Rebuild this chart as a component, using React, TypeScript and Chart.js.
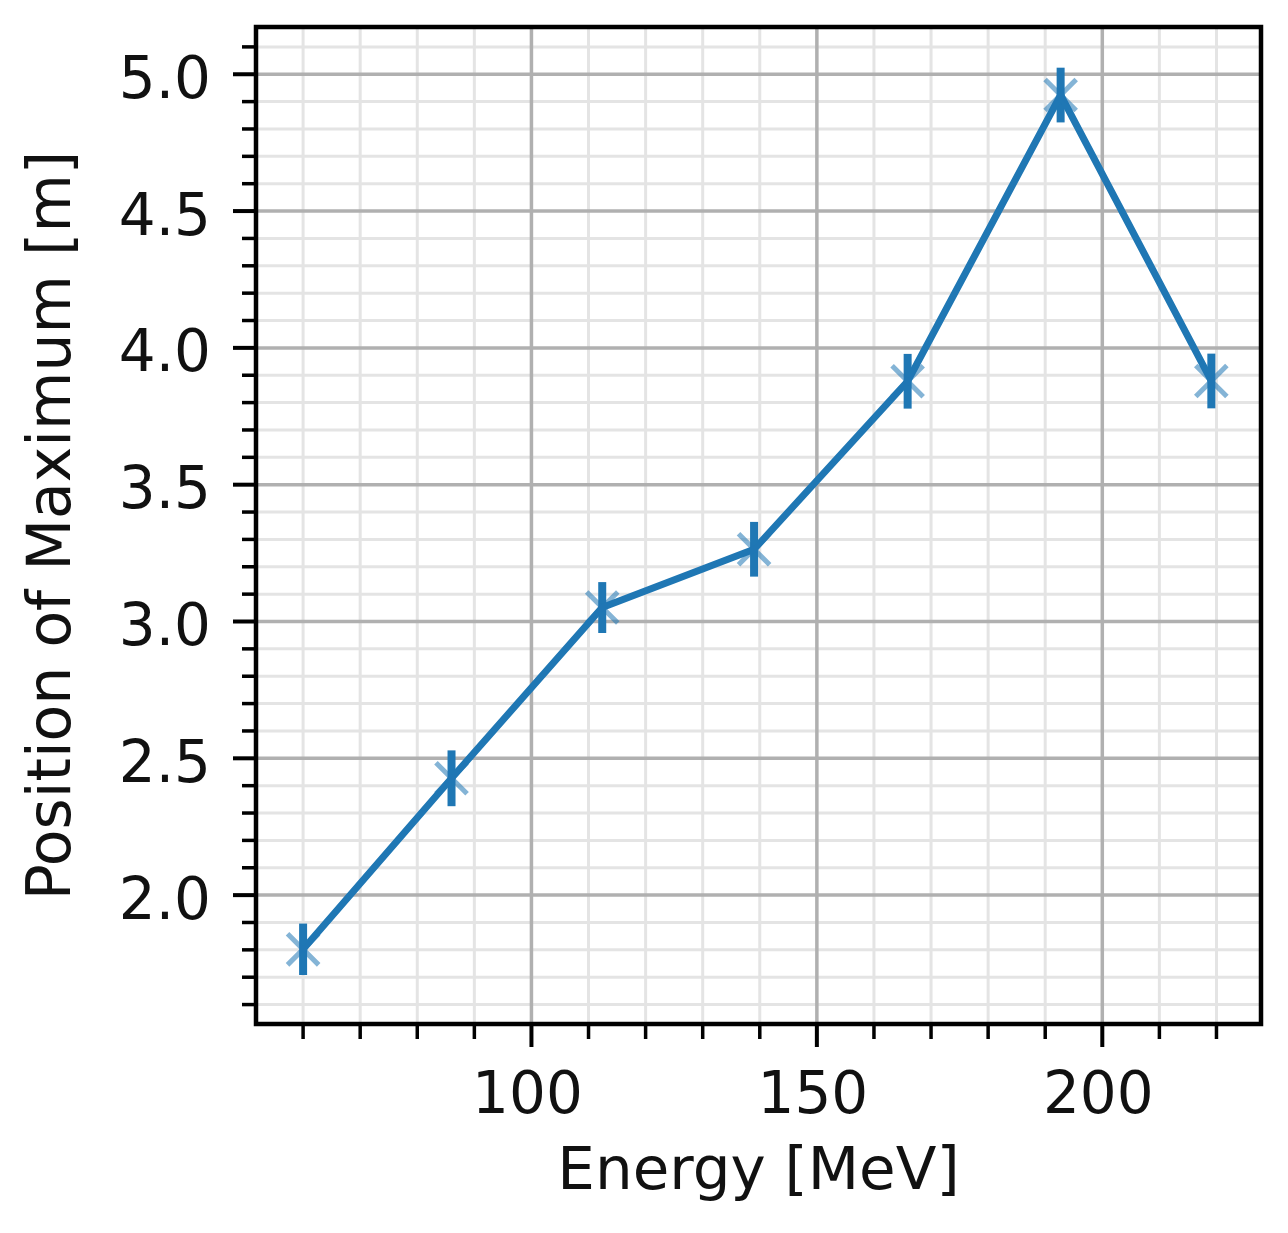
import React, { useEffect, useRef } from "react";
import { Chart, registerables } from "chart.js";

Chart.register(...registerables);

// ---- data ----
const energies = [60.0, 86.0, 112.4, 139.0, 165.9, 192.7, 219.1];
const positions = [1.802, 2.427, 3.051, 3.264, 3.878, 4.924, 3.879];
const errors = [0.094, 0.102, 0.093, 0.1, 0.1, 0.1, 0.1];

const xMajorTicks = [100, 150, 200];
const xMinorTicks = [60, 70, 80, 90, 110, 120, 130, 140, 160, 170, 180, 190, 210, 220];
const yMajorTicks = [2.0, 2.5, 3.0, 3.5, 4.0, 4.5, 5.0];
const yMinorTicks = [
  1.6, 1.7, 1.8, 1.9, 2.1, 2.2, 2.3, 2.4, 2.6, 2.7, 2.8, 2.9, 3.1, 3.2, 3.3, 3.4,
  3.6, 3.7, 3.8, 3.9, 4.1, 4.2, 4.3, 4.4, 4.6, 4.7, 4.8, 4.9, 5.1,
];
const xRange = [51.75, 227.8];
const yRange = [1.529, 5.1727];
const xTitle = "Energy [MeV]";
const yTitle = "Position of Maximum [m]";

const FONT = '"DejaVu Sans", "Liberation Sans", sans-serif';
const BLUE = "#1f77b4";

const decorPlugin = {
  id: "decor",
  beforeDatasetsDraw(chart: any) {
    const { ctx, chartArea: a, scales } = chart;
    const x = scales.x;
    const y = scales.y;
    ctx.save();
    ctx.beginPath();
    ctx.rect(a.left, a.top, a.right - a.left, a.bottom - a.top);
    ctx.clip();
    const vline = (v: number, color: string, w: number) => {
      const px = x.getPixelForValue(v);
      ctx.strokeStyle = color;
      ctx.lineWidth = w;
      ctx.beginPath();
      ctx.moveTo(px, a.top);
      ctx.lineTo(px, a.bottom);
      ctx.stroke();
    };
    const hline = (v: number, color: string, w: number) => {
      const py = y.getPixelForValue(v);
      ctx.strokeStyle = color;
      ctx.lineWidth = w;
      ctx.beginPath();
      ctx.moveTo(a.left, py);
      ctx.lineTo(a.right, py);
      ctx.stroke();
    };
    xMinorTicks.forEach((v) => vline(v, "#e4e4e4", 3));
    yMinorTicks.forEach((v) => hline(v, "#e4e4e4", 3));
    xMajorTicks.forEach((v) => vline(v, "#b0b0b0", 3.5));
    yMajorTicks.forEach((v) => hline(v, "#b0b0b0", 3.5));

    // error bars
    ctx.strokeStyle = BLUE;
    ctx.lineWidth = 8;
    ctx.lineCap = "butt";
    energies.forEach((e, i) => {
      const px = x.getPixelForValue(e);
      ctx.beginPath();
      ctx.moveTo(px, y.getPixelForValue(positions[i] - errors[i]));
      ctx.lineTo(px, y.getPixelForValue(positions[i] + errors[i]));
      ctx.stroke();
    });
    ctx.restore();
  },
  afterDraw(chart: any) {
    const { ctx, chartArea: a, scales } = chart;
    const x = scales.x;
    const y = scales.y;
    ctx.save();
    ctx.strokeStyle = "#000";
    ctx.lineCap = "butt";
    const xt = (v: number, len: number, w: number) => {
      const px = x.getPixelForValue(v);
      ctx.lineWidth = w;
      ctx.beginPath();
      ctx.moveTo(px, a.bottom);
      ctx.lineTo(px, a.bottom + len);
      ctx.stroke();
    };
    const yt = (v: number, len: number, w: number) => {
      const py = y.getPixelForValue(v);
      ctx.lineWidth = w;
      ctx.beginPath();
      ctx.moveTo(a.left, py);
      ctx.lineTo(a.left - len, py);
      ctx.stroke();
    };
    xMinorTicks.forEach((v) => xt(v, 15, 3.5));
    xMajorTicks.forEach((v) => xt(v, 23, 4));
    yMinorTicks.forEach((v) => yt(v, 14, 3.5));
    yMajorTicks.forEach((v) => yt(v, 23, 4));
    // frame
    ctx.lineWidth = 4.5;
    ctx.lineJoin = "miter";
    ctx.strokeRect(a.left, a.top, a.right - a.left, a.bottom - a.top);
    // tick labels
    ctx.fillStyle = "#111";
    ctx.font = `58px ${FONT}`;
    ctx.textBaseline = "alphabetic";
    ctx.textAlign = "center";
    xMajorTicks.forEach((v) => {
      ctx.fillText(String(v), x.getPixelForValue(v) - 4, a.bottom + 89);
    });
    ctx.textAlign = "right";
    yMajorTicks.forEach((v) => {
      ctx.fillText(v.toFixed(1), a.left - 45, y.getPixelForValue(v) + 23.5);
    });
    ctx.restore();
  },
};

export default function App() {
  const ref = useRef<HTMLCanvasElement | null>(null);
  useEffect(() => {
    document.body.style.margin = "0";
    const canvas = ref.current;
    if (!canvas) return;
    const chart = new Chart(canvas, {
      type: "scatter",
      data: {
        datasets: [
          {
            data: energies.map((e, i) => ({ x: e, y: positions[i] })),
            showLine: true,
            borderColor: BLUE,
            borderWidth: 7,
            pointStyle: "crossRot",
            pointRadius: 22,
            pointHoverRadius: 22,
            pointBorderWidth: 5,
            pointBorderColor: "rgba(31,119,180,0.55)",
            pointBackgroundColor: "rgba(0,0,0,0)",
          } as any,
        ],
      },
      options: {
        animation: false,
        responsive: false,
        events: [],
        layout: { padding: { left: 0, top: 26, right: 25, bottom: 0 } },
        plugins: { legend: { display: false }, tooltip: { enabled: false } },
        scales: {
          x: {
            type: "linear",
            min: xRange[0],
            max: xRange[1],
            grid: { display: false },
            border: { display: false },
            ticks: { display: false },
            title: {
              display: true,
              text: xTitle,
              color: "#111",
              font: { family: FONT, size: 59.5 },
              padding: { top: 0, bottom: 23.5 },
            },
            afterFit: (s: any) => {
              s.height = 209;
            },
          },
          y: {
            type: "linear",
            min: yRange[0],
            max: yRange[1],
            grid: { display: false },
            border: { display: false },
            ticks: { display: false },
            title: {
              display: true,
              text: yTitle,
              color: "#111",
              font: { family: FONT, size: 60 },
              padding: { top: 18.5, bottom: 0 },
            },
            afterFit: (s: any) => {
              s.width = 256;
            },
          },
        },
      } as any,
      plugins: [decorPlugin],
    });
    return () => chart.destroy();
  }, []);
  return (
    <div style={{ width: 1288, height: 1233, background: "#fff" }}>
      <canvas ref={ref} width={1288} height={1233} style={{ display: "block" }} />
    </div>
  );
}
